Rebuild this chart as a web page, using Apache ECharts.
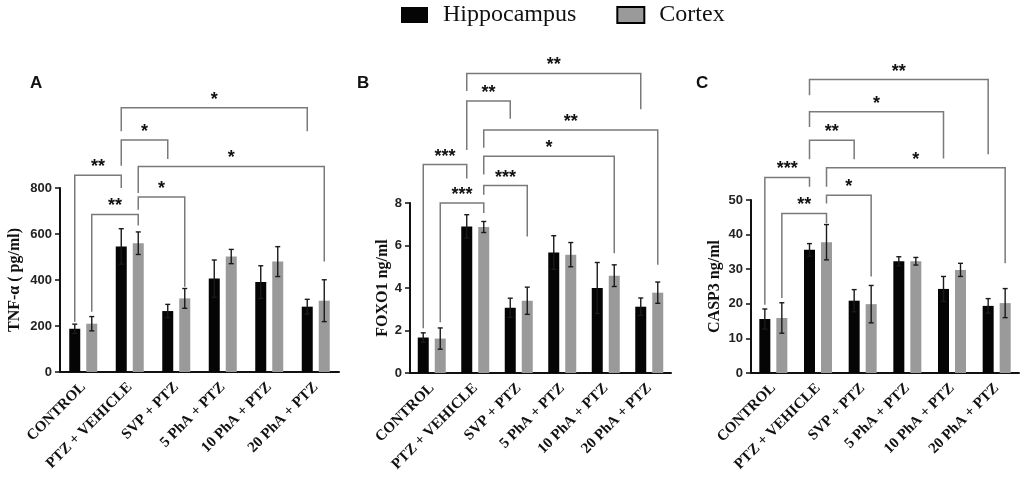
<!DOCTYPE html>
<html>
<head>
<meta charset="utf-8">
<script src="https://cdn.jsdelivr.net/npm/echarts@6/dist/echarts.min.js"></script>
<style>
  html, body { margin: 0; padding: 0; background: #fff; }
  #chart { width: 1024px; height: 482px; }
</style>
</head>
<body>
<div id="chart"></div>
<script>
// Group names (x axis)
const CATS = ['CONTROL', 'PTZ + VEHICLE', 'SVP + PTZ', '5 PhA + PTZ', '10 PhA + PTZ', '20 PhA + PTZ'];

// A: TNF-α (pg/ml)
const tnfHippo = [188, 546, 265, 406, 391, 284];
const tnfHippoErr = [20, 77, 29, 81, 71, 32];
const tnfCortex = [210, 560, 320, 502, 480, 310];
const tnfCortexErr = [31, 49, 43, 31, 65, 91];

// B: FOXO1 ng/ml
const foxoHippo = [1.67, 6.9, 3.07, 5.67, 4.0, 3.12];
const foxoHippoErr = [0.22, 0.55, 0.45, 0.79, 1.2, 0.41];
const foxoCortex = [1.62, 6.87, 3.4, 5.57, 4.58, 3.78];
const foxoCortexErr = [0.5, 0.26, 0.64, 0.57, 0.51, 0.5];

// C: CASP3 ng/ml
const caspHippo = [15.6, 35.6, 20.9, 32.3, 24.3, 19.4];
const caspHippoErr = [2.9, 1.8, 3.2, 1.3, 3.6, 2.1];
const caspCortex = [15.9, 37.8, 19.9, 32.3, 29.8, 20.2];
const caspCortexErr = [4.4, 5.1, 5.4, 1.1, 1.9, 4.2];

// significance brackets: [fromCat, fromSeries, toCat, toSeries, top, leftLegEnd, rightLegEnd, stars]
// series 0 = Hippocampus, 1 = Cortex; heights in axis units
const tnfBrackets = [
  [0, 0, 1, 0, 855, 218, 800, '**'],
  [0, 1, 1, 1, 685, 262, 637, '**'],
  [1, 0, 2, 0, 1009, 897, 926, '*'],
  [1, 0, 5, 0, 1149, 1047, 1047, '*'],
  [1, 1, 5, 1, 894, 778, 480, '*'],
  [1, 1, 2, 1, 761, 705, 371, '*']
];
const foxoBrackets = [
  [1, 0, 5, 0, 14.10, 13.27, 12.41, '**'],
  [1, 0, 2, 0, 12.80, 10.49, 11.97, '**'],
  [1, 1, 5, 1, 11.43, 10.60, 5.09, '**'],
  [1, 1, 4, 1, 10.20, 9.34, 5.64, '*'],
  [0, 0, 1, 0, 9.81, 2.11, 9.15, '***'],
  [1, 1, 2, 1, 8.82, 8.39, 6.42, '***'],
  [0, 1, 1, 1, 8.00, 2.39, 7.53, '***']
];
const caspBrackets = [
  [1, 0, 5, 0, 84.8, 80.3, 63.2, '**'],
  [1, 0, 4, 0, 75.5, 71.1, 62.0, '*'],
  [1, 0, 2, 0, 67.3, 61.8, 61.8, '**'],
  [1, 1, 5, 1, 59.3, 53.8, 31.7, '*'],
  [0, 0, 1, 0, 56.5, 19.7, 53.8, '***'],
  [1, 1, 2, 1, 51.4, 49.0, 27.9, '*'],
  [0, 1, 1, 1, 46.1, 21.7, 43.3, '**']
];

const BAR_W = 11;
const BAR_GAP = 6;
const OFF = (BAR_W + BAR_GAP) / 2;
const BLACK = '#050505';
const GRAY = '#9a9a9a';
const BRACKET = '#7a7a7a';

const chart = echarts.init(document.getElementById('chart'));

const panels = [
  { hippo: tnfHippo, hErr: tnfHippoErr, cortex: tnfCortex, cErr: tnfCortexErr, brackets: tnfBrackets,
    name: 'TNF-α ( pg/ml)', max: 800, interval: 200, nameGap: 37,
    grid: { left: 60, width: 279, top: 188, height: 184 } },
  { hippo: foxoHippo, hErr: foxoHippoErr, cortex: foxoCortex, cErr: foxoCortexErr, brackets: foxoBrackets,
    name: 'FOXO1 ng/ml', max: 8, interval: 2, nameGap: 14,
    grid: { left: 410, width: 261, top: 203, height: 170 } },
  { hippo: caspHippo, hErr: caspHippoErr, cortex: caspCortex, cErr: caspCortexErr, brackets: caspBrackets,
    name: 'CASP3 ng/ml', max: 50, interval: 10, nameGap: 28,
    grid: { left: 751, width: 268, top: 200, height: 173 } }
];

function errorSeries(idx, values, errs, side){
  return {
    type: 'custom',
    xAxisIndex: idx, yAxisIndex: idx,
    z: 5, silent: true,
    data: values.map((v, i) => [i, v, errs[i]]),
    renderItem: function(params, api){
      const c = api.value(0), v = api.value(1), e = api.value(2);
      const hi = api.coord([c, v + e]);
      const lo = api.coord([c, v - e]);
      const x = hi[0] + side * OFF;
      const style = { stroke: '#1a1a1a', lineWidth: 1.4 };
      return { type: 'group', children: [
        { type: 'line', shape: { x1: x, y1: hi[1], x2: x, y2: lo[1] }, style },
        { type: 'line', shape: { x1: x - 2.5, y1: hi[1], x2: x + 2.5, y2: hi[1] }, style },
        { type: 'line', shape: { x1: x - 2.5, y1: lo[1], x2: x + 2.5, y2: lo[1] }, style }
      ]};
    }
  };
}

function bracketSeries(idx, list){
  return {
    type: 'custom',
    xAxisIndex: idx, yAxisIndex: idx,
    z: 6, silent: true, clip: false,
    data: list.map(b => [b[0], b[4]]),
    renderItem: function(params, api){
      const b = list[params.dataIndex];
      const x1 = api.coord([b[0], 0])[0] + (b[1] ? OFF : -OFF);
      const x2 = api.coord([b[2], 0])[0] + (b[3] ? OFF : -OFF);
      const yTop = api.coord([b[0], b[4]])[1];
      const yL = api.coord([b[0], b[5]])[1];
      const yR = api.coord([b[0], b[6]])[1];
      return { type: 'group', children: [
        { type: 'polyline',
          shape: { points: [[x1, yL], [x1, yTop], [x2, yTop], [x2, yR]] },
          style: { stroke: BRACKET, lineWidth: 1.5, fill: null } },
        { type: 'text',
          style: { text: b[7], x: (x1 + x2) / 2, y: yTop - 8, align: 'center', verticalAlign: 'middle',
                   font: 'bold 18px "Liberation Sans"', fill: '#111' } }
      ]};
    }
  };
}

const grid = [], xAxis = [], yAxis = [], series = [];
panels.forEach((p, i) => {
  grid.push(p.grid);
  xAxis.push({
    type: 'category', gridIndex: i, data: CATS,
    axisLine: { lineStyle: { color: '#111', width: 2 } },
    axisTick: { alignWithLabel: true, length: 5, lineStyle: { color: '#111', width: 1.5 } },
    axisLabel: { rotate: 45, margin: 13, color: '#111', interval: 0,
                 fontFamily: 'Liberation Serif', fontWeight: 'bold', fontSize: 15 }
  });
  yAxis.push({
    type: 'value', gridIndex: i, min: 0, max: p.max, interval: p.interval,
    name: p.name, nameLocation: 'middle', nameGap: p.nameGap,
    nameTextStyle: { fontFamily: 'Liberation Serif', fontWeight: 'bold', fontSize: 16, color: '#111' },
    axisLine: { show: true, lineStyle: { color: '#111', width: 2 } },
    axisTick: { show: true, length: 5, lineStyle: { color: '#111', width: 1.5 } },
    axisLabel: { margin: 8, color: '#222', fontFamily: 'Liberation Sans', fontWeight: 'bold', fontSize: 13 },
    splitLine: { show: false }
  });
  series.push({
    name: 'Hippocampus', type: 'bar', xAxisIndex: i, yAxisIndex: i,
    data: p.hippo, barWidth: BAR_W, barGap: (BAR_GAP / BAR_W * 100) + '%',
    itemStyle: { color: BLACK }
  });
  series.push({
    name: 'Cortex', type: 'bar', xAxisIndex: i, yAxisIndex: i,
    data: p.cortex, barWidth: BAR_W, barGap: (BAR_GAP / BAR_W * 100) + '%',
    itemStyle: { color: GRAY }
  });
  series.push(errorSeries(i, p.hippo, p.hErr, -1));
  series.push(errorSeries(i, p.cortex, p.cErr, 1));
  series.push(bracketSeries(i, p.brackets));
});

chart.setOption({
  animation: false,
  backgroundColor: '#fff',
  legend: {
    left: 401, top: 3, padding: 0,
    itemWidth: 27, itemHeight: 16, itemGap: 40,
    icon: 'rect',
    textStyle: { fontFamily: 'Liberation Serif', fontSize: 24, color: '#111', padding: [0, 0, 0, 10] },
    data: [
      { name: 'Hippocampus', itemStyle: { color: BLACK } },
      { name: 'Cortex', itemStyle: { color: GRAY, borderColor: '#000', borderWidth: 2 } }
    ]
  },
  graphic: [
    { type: 'text', left: 30, top: 75, style: { text: 'A', font: 'bold 17px "Liberation Sans"', fill: '#111' } },
    { type: 'text', left: 357, top: 75, style: { text: 'B', font: 'bold 17px "Liberation Sans"', fill: '#111' } },
    { type: 'text', left: 696, top: 75, style: { text: 'C', font: 'bold 17px "Liberation Sans"', fill: '#111' } }
  ],
  grid, xAxis, yAxis, series
});
</script>
</body>
</html>
